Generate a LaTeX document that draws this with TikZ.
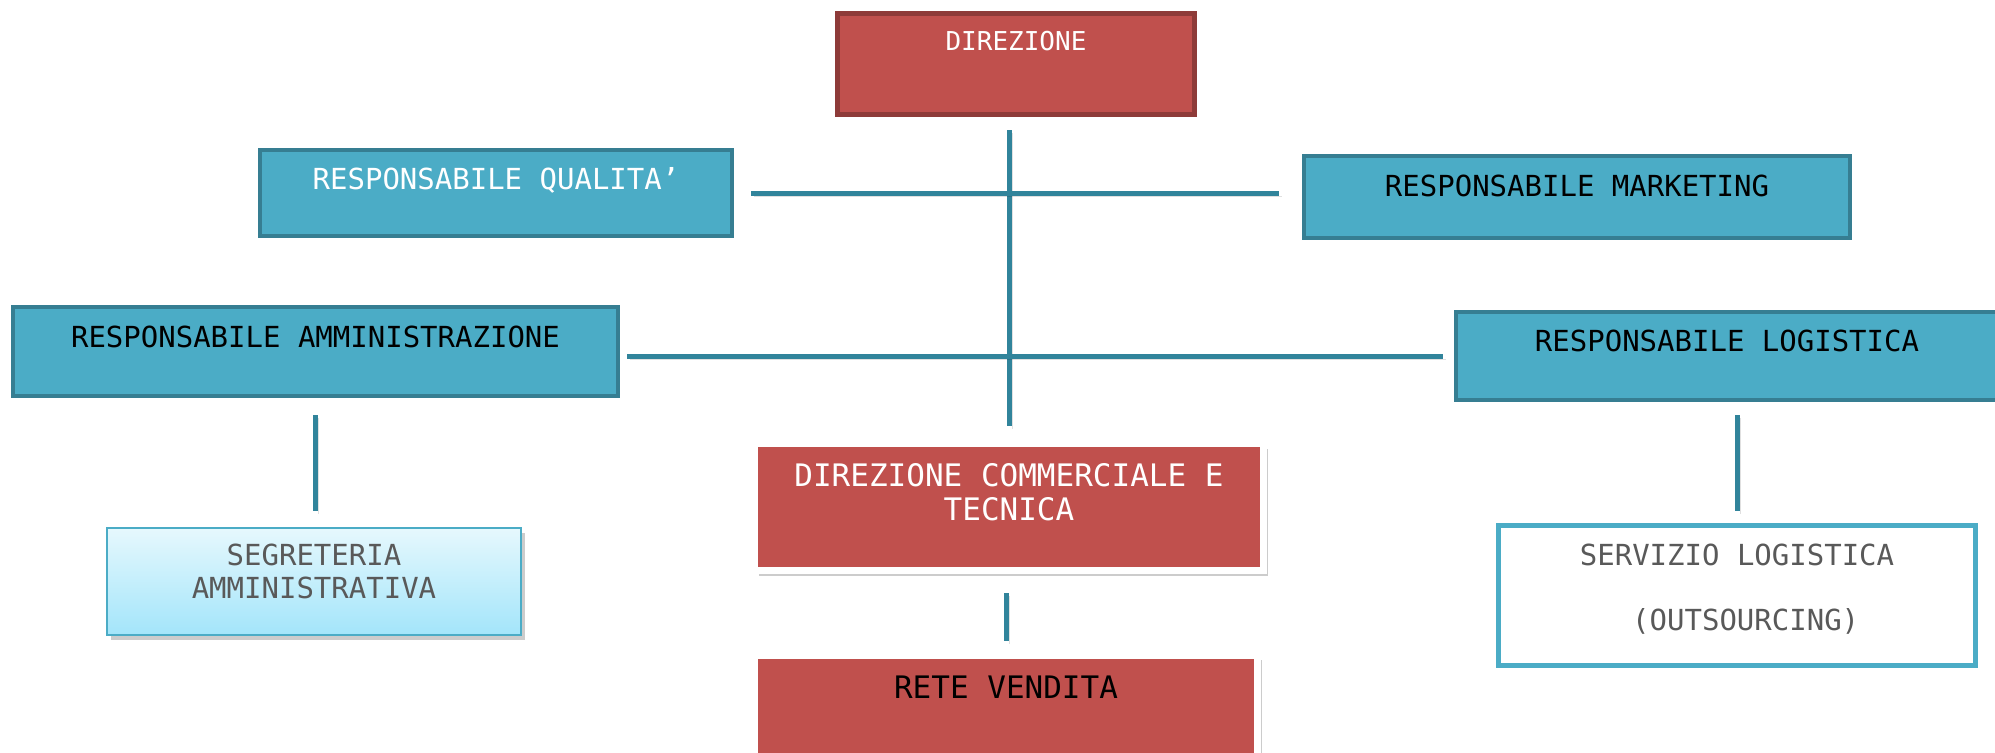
\documentclass[tikz,border=0pt]{standalone}
\usepackage{fontspec}
\setmainfont{DejaVu Sans Mono}
\usetikzlibrary{shadows}
\definecolor{rosso}{HTML}{C0504D}
\definecolor{rossoscuro}{HTML}{8E3B39}
\definecolor{azzurro}{HTML}{4BACC6}
\definecolor{azzurroscuro}{HTML}{367E92}
\definecolor{linea}{HTML}{31849B}
\definecolor{grigio}{HTML}{595959}
\definecolor{celestesu}{HTML}{E6F8FD}
\definecolor{celestegiu}{HTML}{A3E5FA}
% #1 width, #2 height, #3 first baseline from top, #4 text
\newcommand{\casella}[4]{\parbox[c][#2][t]{#1}{\centering\rule{0pt}{#3}#4}}
\begin{document}
\begin{tikzpicture}[x=0.5pt, y=-0.5pt,
  every node/.style={inner sep=0pt, outer sep=0pt},
  rossa/.style={fill=rosso, draw=rossoscuro, line width=2.5pt, text=white, font=\fontsize{13}{15}\selectfont},
  blu/.style={fill=azzurro, draw=azzurroscuro, line width=2pt, font=\fontsize{14.5}{16.5}\selectfont},
  ombra/.style={drop shadow={shadow xshift=2pt, shadow yshift=-2.5pt, opacity=0.2, fill=black}},
  bianca/.style={fill=rosso, draw=white, line width=3.5pt, ombra, font=\fontsize{15.5}{17}\selectfont},
  segr/.style={top color=celestesu, bottom color=celestegiu, draw=azzurro, line width=1pt, ombra, text=grigio, font=\fontsize{14.5}{16.5}\selectfont},
  serv/.style={fill=white, draw=azzurro, line width=2.5pt, text=grigio, font=\fontsize{14.5}{16.5}\selectfont},
  ramo/.style={draw=linea, line width=2.5pt, preaction={draw=black, opacity=0.12, transform canvas={xshift=1.5pt, yshift=-1.5pt}}}]
\useasboundingbox (0,0) rectangle (1995,752);

\node [rossa] (dir) at (1016,64) {\casella{178.5pt}{50.5pt}{18.5pt}{DIREZIONE}};
\node [blu, text=white] (qual) at (496,193) {\casella{236pt}{43pt}{19.8pt}{RESPONSABILE QUALITA’}};
\node [blu] (mark) at (1577,197) {\casella{273pt}{41pt}{20.3pt}{RESPONSABILE MARKETING}};
\node [blu] (amm) at (315.5,351.5) {\casella{302.5pt}{44.5pt}{20.3pt}{RESPONSABILE AMMINISTRAZIONE}};
\node [blu] (log) at (1727,356) {\casella{271pt}{44pt}{19.8pt}{RESPONSABILE LOGISTICA}};
\node [segr] (segr) at (314,581.5) {\casella{207pt}{53.5pt}{18.8pt}{SEGRETERIA\\AMMINISTRATIVA}};
\node [bianca, text=white] (comm) at (1009,507) {\casella{254.5pt}{63.5pt}{21.4pt}{DIREZIONE COMMERCIALE E\\TECNICA}};
\node [bianca] (rete) at (1006,714) {\casella{251.5pt}{59pt}{21.9pt}{RETE VENDITA}};
\node [serv] (serv) at (1737,595.5) {\casella{238.5pt}{70pt}{20pt}{SERVIZIO LOGISTICA\\[16pt]\hspace*{8.7pt}(OUTSOURCING)}};

\draw [ramo, shorten <=7.75pt, shorten >=8.75pt] (comm.north |- dir.south) -- (comm.north);
\draw [ramo, shorten <=9.5pt, shorten >=12.5pt] (qual.east) -- (qual.east -| mark.west);
\draw [ramo, shorten <=4.5pt, shorten >=6.5pt] (amm.east |- log.west) -- (log.west);
\draw [ramo, shorten <=9.5pt, shorten >=8.5pt] (amm.south) -- (amm.south |- segr.north);
\draw [ramo, shorten <=11.25pt, shorten >=7.25pt] (rete.north |- comm.south) -- (rete.north);
\draw [ramo, shorten <=7.5pt, shorten >=7.25pt] (serv.north |- log.south) -- (serv.north);
\end{tikzpicture}
\end{document}
